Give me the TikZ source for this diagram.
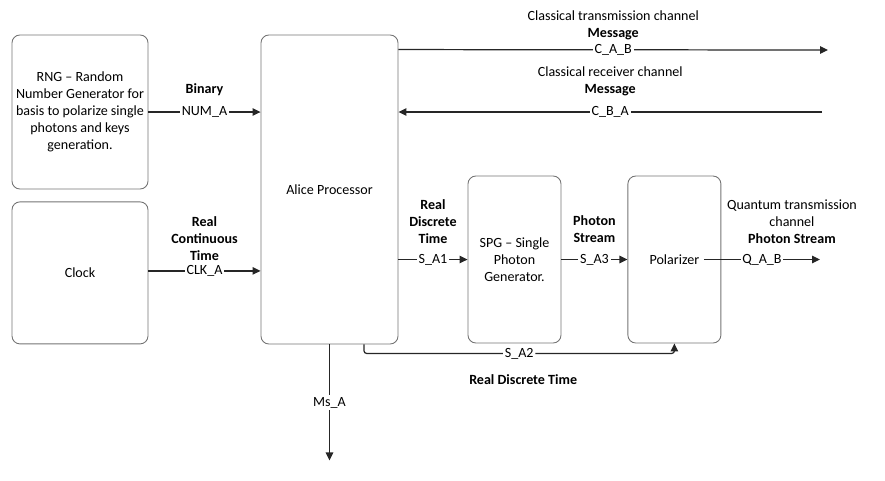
\documentclass[tikz,border=0pt]{standalone}
\usepackage{fontspec}
\setmainfont{Carlito}
\usetikzlibrary{positioning,arrows.meta}

\begin{document}
\begin{tikzpicture}[
    every node/.style={font=\fontsize{8}{9.6}\selectfont},
    box/.style={rectangle, draw=black!55, line width=0.5pt, align=center, inner sep=1pt, rounded corners=4.5pt},
    arrow/.style={-{Triangle[length=1.6mm, width=1.5mm]}, draw=black!85, line width=0.7pt},
    signal/.style={fill=white, inner sep=1pt},
    head/.style={align=center, font=\fontsize{8}{9.6}\selectfont\bfseries},
    note/.style={align=center}
]

\useasboundingbox (0,0) rectangle (17.7,-9.6);

% ============ SOURCES (LEFT) ============
\node[box, minimum width=2.72cm, minimum height=3.08cm] (rng) at (1.6,-2.24) {RNG – Random\\Number Generator for\\basis to polarize single\\photons and keys\\generation.};
\node[box, minimum width=2.72cm, minimum height=2.84cm, below=0.24cm of rng] (clock) {Clock};

% ============ PROCESSOR ============
\node[box, minimum width=2.74cm, minimum height=6.18cm] (alice) at (6.59,-3.79) {Alice Processor};

% ============ PHOTON CHAIN ============
\node[box, minimum width=1.86cm, minimum height=3.34cm] (spg) at (10.29,-5.19) {SPG – Single\\Photon\\Generator.};
\node[box, minimum width=1.86cm, minimum height=3.34cm, right=1.32cm of spg] (pol) {Polarizer};

% Free ends of the channels
\coordinate (cabend) at (16.56,-1.0);
\coordinate (cbastart) at (16.44,-2.24);
\coordinate (qabend) at (16.4,-5.19);
\coordinate[below=2.32cm of alice.south] (msend);

% ============ INPUTS ============
\draw[arrow] (rng.east) -- (rng.east -| alice.west) node[signal, midway] (numa) {NUM\_A};
\node[head] (binary) at ([yshift=0.44cm]numa.center) {Binary};

\draw[arrow] ([yshift=0.04cm]clock.east) -- ([yshift=0.04cm]clock.east -| alice.west) node[signal, midway] (clka) {CLK\_A};
\node[head] (clkhead) at ([yshift=0.65cm]clka.center) {Real\\Continuous\\Time};

% ============ CLASSICAL CHANNELS ============
\draw[arrow] ([yshift=-0.3cm]alice.north east) -- (cabend) node[signal, midway] (cab) {C\_A\_B};
\node[note] (cabhead) at ([yshift=0.49cm]cab.center) {Classical transmission channel\\\textbf{Message}};

\draw[arrow] (cbastart) -- (cbastart -| alice.east) node[signal, midway] (cba) {C\_B\_A};
\node[note] (cbahead) at ([yshift=0.61cm]cba.center) {Classical receiver channel\\\textbf{Message}};

% ============ PHOTON PATH ============
\draw[arrow] (spg.west -| alice.east) -- (spg.west) node[signal, midway] (sa1) {S\_A1};
\node[head] (sa1head) at ([yshift=0.76cm]sa1.center) {Real\\Discrete\\Time};

\draw[arrow] (spg.east) -- (pol.west) node[signal, midway] (sa3) {S\_A3};
\node[head] (sa3head) at ([yshift=0.61cm]sa3.center) {Photon\\Stream};

\draw[arrow] ([xshift=0.59cm]pol.center) -- (qabend) node[signal, midway] (qab) {Q\_A\_B};
\node[note] (qabhead) at ([xshift=0.6cm, yshift=0.75cm]qab.center) {Quantum transmission\\channel\\\textbf{Photon Stream}};

% Timing to the polarizer
\draw[arrow, rounded corners=1.5pt] ([xshift=0.69cm]alice.south) -- ++(0,-0.18) -| (pol.south) node[signal, pos=0.25] (sa2) {S\_A2};
\node[head] (sa2head) at ([xshift=0.08cm, yshift=-0.52cm]sa2.center) {Real Discrete Time};

% Output
\draw[arrow] (alice.south) -- (msend) node[signal, midway] (msa) {Ms\_A};

\end{tikzpicture}
\end{document}
